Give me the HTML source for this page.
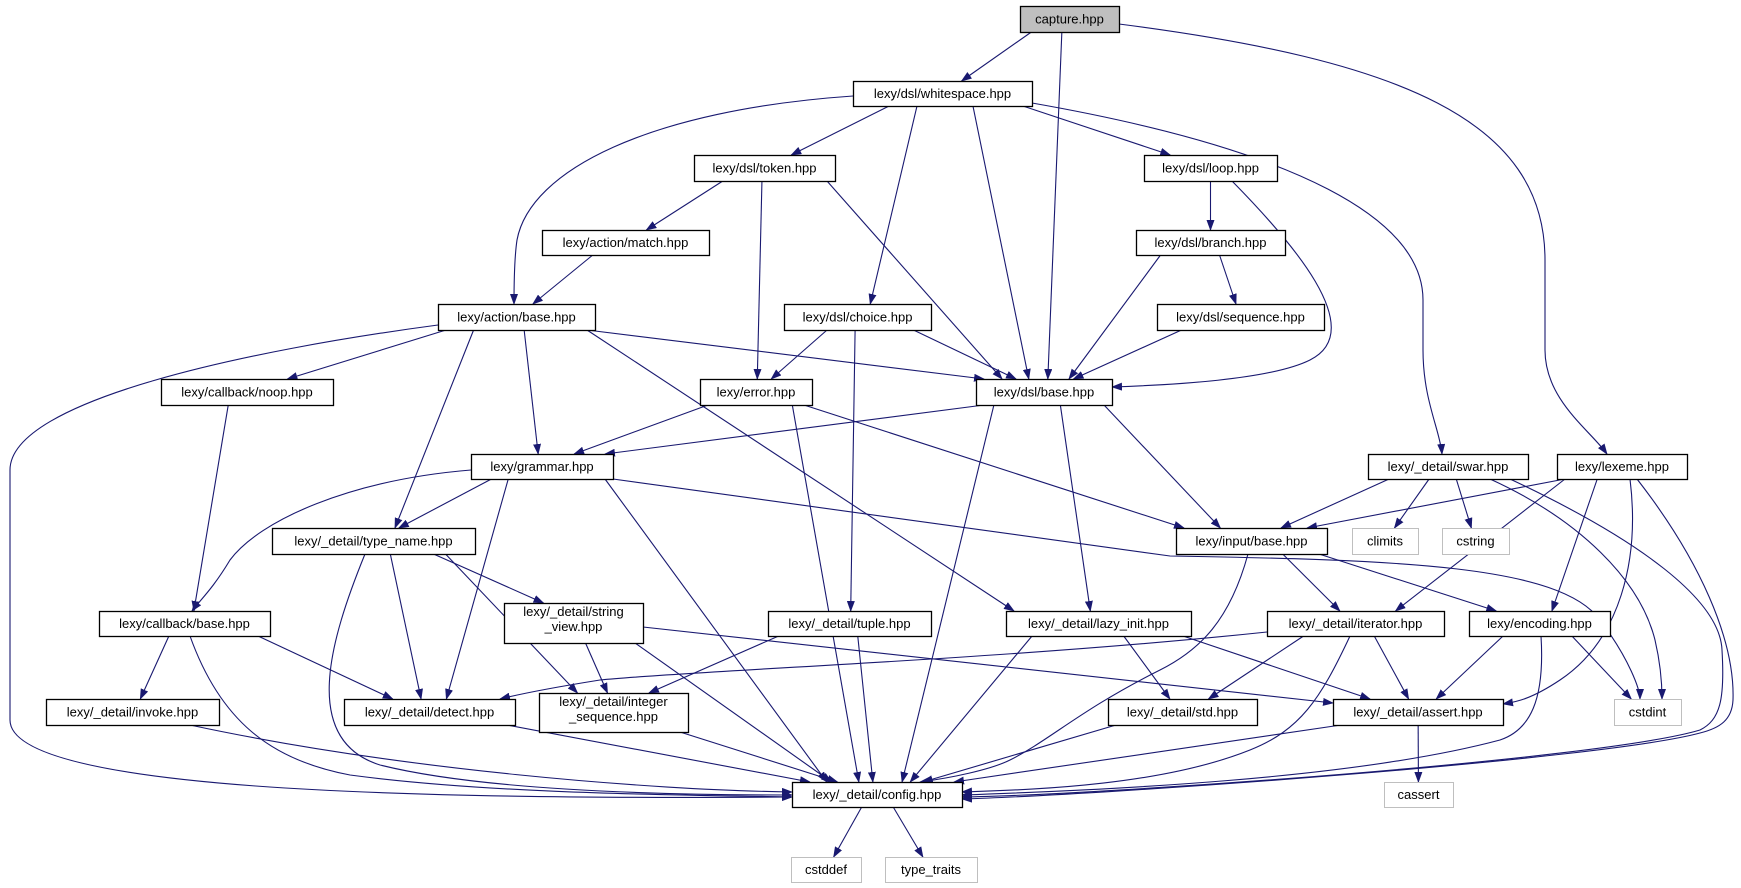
<!DOCTYPE html>
<html><head><meta charset="utf-8"><style>
html,body{margin:0;padding:0;background:#fff;}
svg{display:block;}
text{font-family:"Liberation Sans",sans-serif;font-size:13px;fill:#000;}
</style></head><body>
<svg id="g" width="1741" height="888" viewBox="0 0 1741 888" xmlns="http://www.w3.org/2000/svg">
<defs><marker id="a" markerWidth="11" markerHeight="8" refX="10" refY="4" orient="auto" markerUnits="userSpaceOnUse"><path d="M0,0 L11,4 L0,8z" fill="#191970"/></marker></defs>
<g id="edges" fill="none" stroke="#191970" stroke-width="1.1"></g>
<g id="nodes"></g>
</svg>
<script>
var N={
capture:[1020,6,1119,32,"capture.hpp",1],
ws:[853,81,1032,106,"lexy/dsl/whitespace.hpp"],
token:[694,155,835,181,"lexy/dsl/token.hpp"],
loop:[1144,155,1277,181,"lexy/dsl/loop.hpp"],
match:[542,230,709,255,"lexy/action/match.hpp"],
branch:[1136,230,1285,255,"lexy/dsl/branch.hpp"],
abase:[438,304,595,330,"lexy/action/base.hpp"],
choice:[784,304,931,330,"lexy/dsl/choice.hpp"],
seq:[1157,304,1324,330,"lexy/dsl/sequence.hpp"],
noop:[161,379,333,405,"lexy/callback/noop.hpp"],
error:[700,379,812,405,"lexy/error.hpp"],
dbase:[976,379,1112,405,"lexy/dsl/base.hpp"],
grammar:[471,454,613,479,"lexy/grammar.hpp"],
swar:[1368,454,1528,479,"lexy/_detail/swar.hpp"],
lexeme:[1557,454,1687,479,"lexy/lexeme.hpp"],
tname:[272,528,475,554,"lexy/_detail/type_name.hpp"],
ibase:[1176,528,1327,554,"lexy/input/base.hpp"],
climits:[1352,528,1418,554,"climits",2],
cstring:[1442,528,1509,554,"cstring",2],
cbbase:[99,611,270,636,"lexy/callback/base.hpp"],
sview:[504,603,643,643,"lexy/_detail/string|_view.hpp"],
tuple:[768,611,931,636,"lexy/_detail/tuple.hpp"],
lazy:[1006,611,1191,636,"lexy/_detail/lazy_init.hpp"],
iter:[1267,611,1444,636,"lexy/_detail/iterator.hpp"],
enc:[1469,611,1610,636,"lexy/encoding.hpp"],
invoke:[46,699,219,725,"lexy/_detail/invoke.hpp"],
detect:[344,699,515,725,"lexy/_detail/detect.hpp"],
integer:[539,693,688,732,"lexy/_detail/integer|_sequence.hpp"],
std:[1108,699,1257,725,"lexy/_detail/std.hpp"],
assert:[1333,699,1503,725,"lexy/_detail/assert.hpp"],
cstdint:[1614,699,1681,725,"cstdint",2],
config:[792,782,962,807,"lexy/_detail/config.hpp"],
cassert:[1384,782,1453,807,"cassert",2],
cstddef:[791,857,861,882,"cstddef",2],
ttraits:[885,857,977,882,"type_traits",2]
};
var E="capture-ws capture-dbase ws-token ws-choice ws-dbase ws-loop token-match token-error token-dbase loop-branch match-abase branch-dbase branch-seq seq-dbase abase-noop abase-tname abase-grammar abase-lazy abase-dbase choice-error choice-dbase choice-tuple noop-cbbase error-grammar error-config error-ibase dbase-grammar dbase-config dbase-lazy dbase-ibase grammar-tname grammar-detect grammar-config swar-ibase swar-climits swar-cstring lexeme-ibase lexeme-iter lexeme-enc tname-detect tname-integer tname-sview ibase-iter ibase-enc cbbase-invoke cbbase-detect sview-integer sview-config tuple-integer tuple-config lazy-config lazy-std lazy-assert iter-std iter-assert enc-assert enc-cstdint detect-config integer-config std-config assert-config assert-cassert config-cstddef config-ttraits".split(" ");
var C=[
"M1119,24 C1400,60 1545,120 1545,260 L1545,350 C1545,400 1590,430 1607,454",
"M1032,103 C1300,150 1423,220 1423,300 L1423,350 C1423,400 1440,430 1442,454",
"M853,96 C650,110 530,170 517,240 C514,260 514,290 514,304",
"M1232,181 C1290,240 1370,330 1310,360 C1270,380 1170,385 1112,387",
"M438,325 C250,350 10,400 10,470 L10,720 C10,790 400,800 792,797",
"M471,470 C350,480 260,520 230,560 C212,590 200,600 192,611",
"M613,479 L1170,556 C1400,560 1560,565 1600,620 C1640,680 1648,740 1648,699",
"M190,636 C220,720 270,760 350,775 C500,795 700,795 792,797",
"M190,725 C400,770 650,790 792,792",
"M365,554 C330,640 300,740 380,765 C480,790 650,795 792,795",
"M1350,636 C1320,700 1300,730 1250,750 C1150,790 1000,790 962,792",
"M1541,636 C1545,700 1530,730 1500,740 C1350,780 1100,790 962,795",
"M1510,479 C1640,540 1720,600 1722,650 C1725,700 1720,720 1700,730 C1600,760 1100,795 962,797",
"M1637,479 C1700,560 1735,640 1733,700 C1732,720 1720,728 1700,733 C1600,760 1100,795 962,799",
"M1248,554 C1230,620 1200,650 1160,670 C1080,710 1050,740 1010,760 C990,770 950,778 920,782",
"M1630,479 C1640,560 1620,640 1560,680 C1530,700 1515,702 1503,704",
"M1490,479 C1580,520 1640,580 1655,640 C1662,670 1662,690 1662,699",
"M1267,632 C1000,660 700,670 600,680 C550,688 520,694 500,699",
"M643,627 L1333,703"
];
C[6]="M613,479 L1170,556 C1400,560 1560,565 1600,620 C1630,660 1640,690 1640,699";
var eg=document.getElementById('edges'),ng=document.getElementById('nodes'),ns="http://www.w3.org/2000/svg";
function cl(v,a,b){return Math.max(a,Math.min(b,v));}
function P(d){var p=document.createElementNS(ns,'path');p.setAttribute('d',d);p.setAttribute('marker-end','url(#a)');eg.appendChild(p);}
E.forEach(function(e){var s=N[e.split('-')[0]],t=N[e.split('-')[1]];
var scx=(s[0]+s[2])/2,tcx=(t[0]+t[2])/2;
var x1=cl(scx+(tcx-scx)*0.3,s[0]+8,s[2]-8),y1=s[3];
var x2=cl(tcx+(scx-tcx)*0.15,t[0]+8,t[2]-8),y2=t[1];
P("M"+x1+","+y1+" L"+x2+","+y2);});
C.forEach(P);
for(var k in N){var n=N[k];var r=document.createElementNS(ns,'rect');
r.setAttribute('x',n[0]+.5);r.setAttribute('y',n[1]+.5);r.setAttribute('width',n[2]-n[0]);r.setAttribute('height',n[3]-n[1]);
r.setAttribute('fill',n[5]==1?'#bfbfbf':'#fff');r.setAttribute('stroke',n[5]==2?'#bfbfbf':'#000');r.setAttribute('stroke-width',n[5]==2?1:1.3);ng.appendChild(r);
var lines=n[4].split('|'),cx=(n[0]+n[2])/2,h=n[3]-n[1];
lines.forEach(function(L,i){var t=document.createElementNS(ns,'text');t.setAttribute('x',cx);t.setAttribute('text-anchor','middle');
var y=lines.length==1?n[1]+h/2+4.5:n[1]+13+i*15;t.setAttribute('y',y);t.textContent=L;ng.appendChild(t);});}
</script>
</body></html>
